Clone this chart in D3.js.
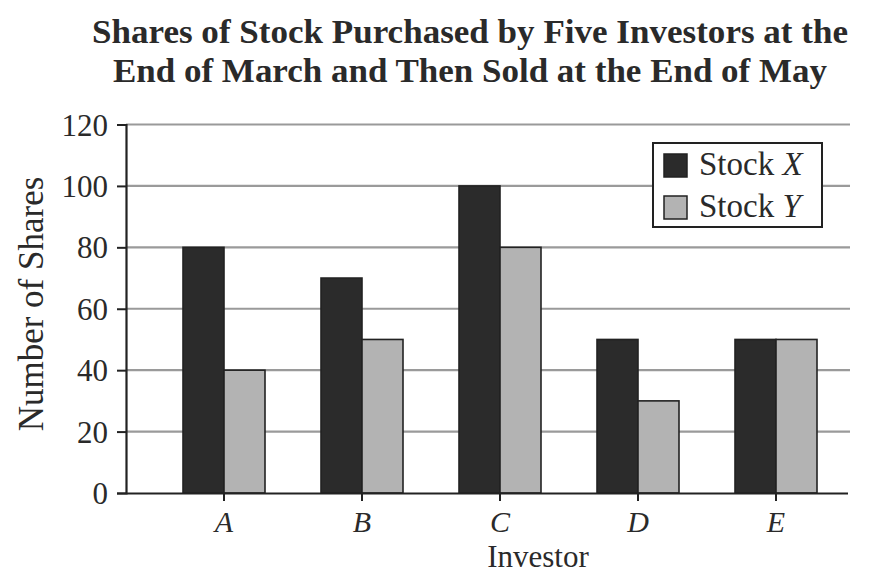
<!DOCTYPE html>
<html><head><meta charset="utf-8">
<script src="https://cdn.jsdelivr.net/npm/d3@7"></script>
<style>body{margin:0;background:#fff}svg{display:block}text{font-family:"Liberation Serif","Times New Roman",serif;fill:#2a2a2a}</style>
</head><body>
<script>
const investors = ["A","B","C","D","E"];
const stockX = [80,70,100,50,50];
const stockY = [40,50,80,30,50];
const seriesNames = ["X","Y"];
const yTicks = [0,20,40,60,80,100,120];

const W=875,H=573;
const svg=d3.select("body").append("svg").attr("width",W).attr("height",H);
const axisX=126, plotRight=850, y0=493, yTop=124.5;
const y=d3.scaleLinear().domain([0,120]).range([y0,yTop]);
const x=d3.scaleBand().domain(investors).range([155,845]).padding(0);
const x1=d3.scaleBand().domain(seriesNames).range([x.bandwidth()/2-41,x.bandwidth()/2+41]).padding(0);
const colors={X:"#2b2b2b",Y:"#b3b3b3"};

// title
const title=svg.append("text").attr("text-anchor","middle").attr("font-weight","bold").attr("font-size",34);
title.append("tspan").attr("x",470).attr("y",43).attr("textLength",756).attr("lengthAdjust","spacingAndGlyphs").text("Shares of Stock Purchased by Five Investors at the");
title.append("tspan").attr("x",470).attr("y",82).attr("textLength",714).attr("lengthAdjust","spacingAndGlyphs").text("End of March and Then Sold at the End of May");

// gridlines
svg.append("g").selectAll("line").data(yTicks.filter(d=>d>0)).join("line")
  .attr("x1",axisX).attr("x2",plotRight).attr("y1",d=>y(d)).attr("y2",d=>y(d))
  .attr("stroke","#9a9a9a").attr("stroke-width",2.2);

// bars
const data=investors.map((k,i)=>({k,vals:[{s:"X",v:stockX[i]},{s:"Y",v:stockY[i]}]}));
svg.append("g").selectAll("g").data(data).join("g").attr("transform",d=>`translate(${x(d.k)},0)`)
  .selectAll("rect").data(d=>d.vals).join("rect")
  .attr("x",d=>x1(d.s)).attr("width",x1.bandwidth())
  .attr("y",d=>y(d.v)).attr("height",d=>y0-y(d.v))
  .attr("fill",d=>colors[d.s]).attr("stroke","#222").attr("stroke-width",1.6);

// y axis
const yAxis=d3.axisLeft(y).tickValues(yTicks).tickSize(9).tickPadding(9);
const gy=svg.append("g").attr("transform",`translate(${axisX},0)`).call(yAxis);
gy.select(".domain").attr("stroke","#222").attr("stroke-width",2.2);
gy.selectAll(".tick line").attr("stroke","#222").attr("stroke-width",2);
gy.selectAll(".tick text").attr("font-size",31).attr("font-family","Liberation Serif, serif").attr("fill","#2a2a2a").attr("dy","0.34em");

// x axis
const xAxis=d3.axisBottom(x).tickSize(8).tickSizeOuter(0);
const gx=svg.append("g").attr("transform",`translate(0,${y0})`).call(xAxis);
gx.select(".domain").attr("d",`M${axisX},0.5H${848}`).attr("stroke","#222").attr("stroke-width",2.2);
gx.selectAll(".tick line").attr("stroke","#222").attr("stroke-width",2);
gx.selectAll(".tick text").attr("y",39).attr("dy",0).attr("font-size",30).attr("font-style","italic").attr("font-family","Liberation Serif, serif").attr("fill","#2a2a2a");

// axis titles
svg.append("text").attr("x",538).attr("y",567).attr("text-anchor","middle").attr("font-size",31).text("Investor");
svg.append("text").attr("transform","translate(43,304) rotate(-90)").attr("text-anchor","middle").attr("font-size",35).text("Number of Shares");

// legend
const lg=svg.append("g");
lg.append("rect").attr("x",653).attr("y",143).attr("width",169).attr("height",84).attr("fill","#fff").attr("stroke","#222").attr("stroke-width",2);
seriesNames.forEach((s,i)=>{
  lg.append("rect").attr("x",664).attr("y",154+i*42).attr("width",23).attr("height",23).attr("fill",colors[s]).attr("stroke","#222").attr("stroke-width",1.5);
  const t=lg.append("text").attr("x",699).attr("y",175+i*42).attr("font-size",33);
  t.append("tspan").text("Stock ");
  t.append("tspan").attr("font-style","italic").text(s);
});
</script>
</body></html>
